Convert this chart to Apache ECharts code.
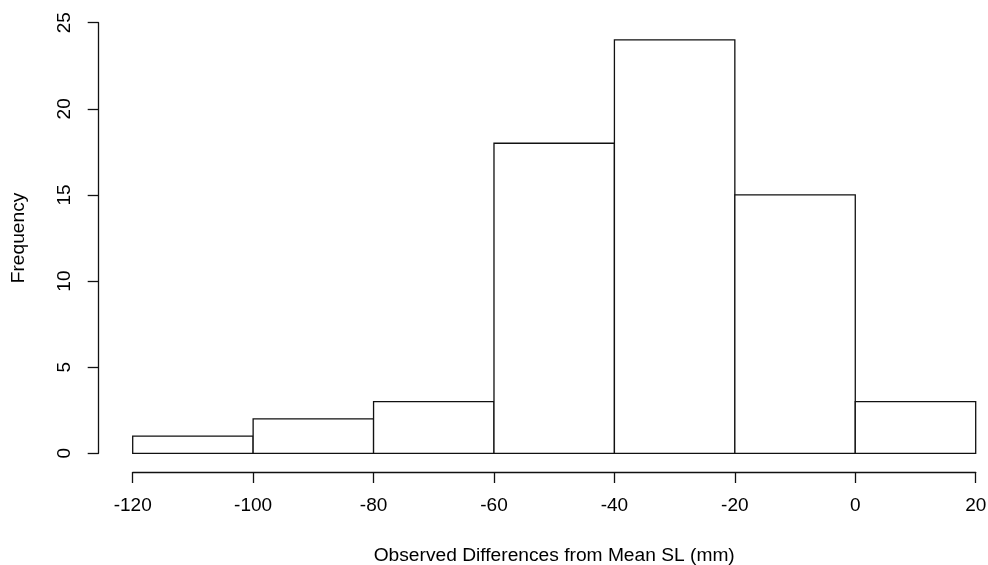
<!DOCTYPE html>
<html>
<head>
<meta charset="utf-8">
<script src="https://cdn.jsdelivr.net/npm/echarts@6/dist/echarts.min.js"></script>
<style>
html,body{margin:0;padding:0;background:#fff;}
#chart{width:988px;height:565px;}
</style>
</head>
<body>
<div id="chart"></div>
<script>
// Histogram bins (left edges, right edges) and counts
const binStarts = [-120, -100, -80, -60, -40, -20, 0];
const binEnds   = [-100, -80, -60, -40, -20, 0, 20];
const counts    = [1, 2, 3, 18, 24, 15, 3];
const xTicks = [-120, -100, -80, -60, -40, -20, 0, 20];
const yTicks = [0, 5, 10, 15, 20, 25];
const xTitle = 'Observed Differences from Mean SL (mm)';
const yTitle = 'Frequency';

const data = binStarts.map((s, i) => [s, binEnds[i], counts[i]]);
const font = 'Liberation Sans, Arial, sans-serif';

const chart = echarts.init(document.getElementById('chart'), null, {renderer: 'canvas'});
chart.setOption({
  animation: false,
  backgroundColor: '#ffffff',
  grid: {left: 132.7, right: 12.3, top: 22.7, bottom: 111.7, containLabel: false, outerBoundsMode: 'none'},
  xAxis: {
    type: 'value',
    min: xTicks[0], max: xTicks[xTicks.length - 1], interval: 20,
    offset: 18.7,
    axisLine: {show: true, onZero: false, lineStyle: {color: '#111', width: 1.3}},
    axisTick: {show: true, inside: false, length: 11, lineStyle: {color: '#111', width: 1.3}},
    axisLabel: {color: '#000', fontSize: 19, fontFamily: font, margin: 24},
    splitLine: {show: false},
    name: xTitle, nameLocation: 'middle', nameGap: 74,
    nameTextStyle: {color: '#000', fontSize: 19.2, fontFamily: font}
  },
  yAxis: {
    type: 'value',
    min: yTicks[0], max: yTicks[yTicks.length - 1], interval: 5,
    offset: 34,
    axisLine: {show: true, onZero: false, lineStyle: {color: '#111', width: 1.3}},
    axisTick: {show: true, inside: false, length: 11, lineStyle: {color: '#111', width: 1.3}},
    axisLabel: {color: '#000', fontSize: 19, fontFamily: font, rotate: 90, margin: 33.7,
                verticalAlign: 'middle', align: 'center'},
    splitLine: {show: false},
    name: yTitle, nameLocation: 'middle', nameGap: 70, nameRotate: 90,
    nameTextStyle: {color: '#000', fontSize: 19.2, fontFamily: font}
  },
  series: [{
    type: 'custom',
    data: data,
    encode: {x: [0, 1], y: 2},
    renderItem: function (params, api) {
      const p0 = api.coord([api.value(0), api.value(2)]);
      const p1 = api.coord([api.value(1), 0]);
      return {
        type: 'rect',
        shape: {x: p0[0], y: p0[1], width: p1[0] - p0[0], height: p1[1] - p0[1]},
        style: {fill: '#ffffff', stroke: '#111111', lineWidth: 1.3}
      };
    }
  }]
});
</script>
</body>
</html>
